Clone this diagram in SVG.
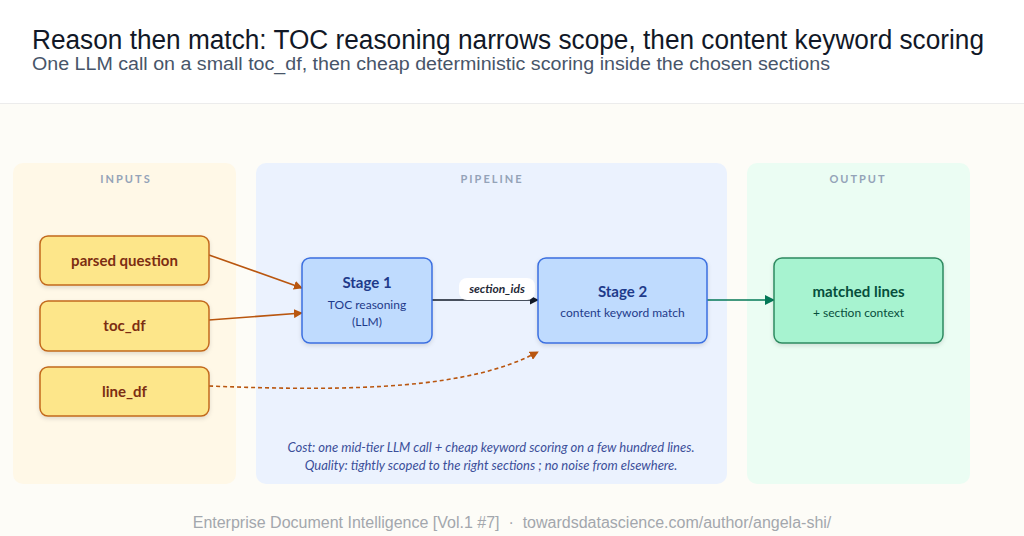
<svg xmlns="http://www.w3.org/2000/svg" width="1024" height="536" viewBox="0 0 1024 536">
<defs>
<style>
.hd{font-family:"Liberation Sans",Arial,sans-serif}
.plab{font-family:Lato,sans-serif;font-size:11px;font-weight:700;letter-spacing:2px;fill:#94a3b8;text-anchor:middle}
.inp rect{fill:#fde68a;stroke:#c2691c;stroke-width:1.5}
.inp text{font-family:Lato,sans-serif;font-size:15px;font-weight:700;fill:#7c2d12;text-anchor:middle}
.stg rect{fill:#bfdbfe;stroke:#3b6fe0;stroke-width:1.5}
.stg .t{font-family:Lato,sans-serif;font-size:15px;font-weight:700;fill:#1e3a8a;text-anchor:middle}
.stg .s{font-family:Lato,sans-serif;font-size:12px;fill:#1e3a8a;text-anchor:middle}
.out rect{fill:#a7f3d0;stroke:#2f8a60;stroke-width:1.5}
.out .t{font-family:Lato,sans-serif;font-size:15px;font-weight:700;fill:#064e3b;text-anchor:middle}
.out .s{font-family:Lato,sans-serif;font-size:12px;fill:#064e3b;text-anchor:middle}
.cap{font-family:Lato,sans-serif;font-size:13px;font-style:italic;fill:#3b4f9a;text-anchor:middle}
</style>
<filter id="sh" x="-10%" y="-10%" width="120%" height="130%"><feDropShadow dx="0" dy="2" stdDeviation="2" flood-color="#000" flood-opacity="0.12"/></filter>
<marker id="ao" viewBox="0 0 10 10" refX="9" refY="5" markerWidth="9" markerHeight="9" markerUnits="userSpaceOnUse" orient="auto"><path d="M0,0 L10,5 L0,10 z" fill="#b9560f"/></marker>
<marker id="ad" viewBox="0 0 10 10" refX="9" refY="5" markerWidth="9" markerHeight="9" markerUnits="userSpaceOnUse" orient="auto"><path d="M0,0 L10,5 L0,10 z" fill="#111827"/></marker>
<marker id="ag" viewBox="0 0 10 10" refX="9" refY="5" markerWidth="10" markerHeight="10" markerUnits="userSpaceOnUse" orient="auto"><path d="M0,0 L10,5 L0,10 z" fill="#047857"/></marker>
</defs>
<rect width="1024" height="536" fill="#fdfcf7"/>
<rect width="1024" height="103" fill="#ffffff"/>
<line x1="0" y1="103.5" x2="1024" y2="103.5" stroke="#ececec"/>
<g id="header">
<text class="hd" x="32" y="49" font-size="27" fill="#111827" textLength="952" lengthAdjust="spacingAndGlyphs">Reason then match: TOC reasoning narrows scope, then content keyword scoring</text>
<text class="hd" x="32" y="70" font-size="17.5" fill="#475569" textLength="798" lengthAdjust="spacingAndGlyphs">One LLM call on a small toc_df, then cheap deterministic scoring inside the chosen sections</text>
</g>
<g id="panel-inputs">
<rect x="13" y="163" width="223" height="321" rx="10" fill="#fff8e7"/>
<text class="plab" x="126" y="183">INPUTS</text>
</g>
<g id="panel-pipeline">
<rect x="256" y="163" width="471" height="321" rx="10" fill="#ebf2fe"/>
<text class="plab" x="492" y="183">PIPELINE</text>
</g>
<g id="panel-output">
<rect x="747" y="163" width="223" height="321" rx="10" fill="#ebfdf3"/>
<text class="plab" x="858" y="183">OUTPUT</text>
</g>
<g id="connectors" fill="none">
<line x1="209" y1="255" x2="302" y2="288" stroke="#b9560f" stroke-width="1.6" marker-end="url(#ao)"/>
<line x1="209" y1="320" x2="302" y2="313" stroke="#b9560f" stroke-width="1.6" marker-end="url(#ao)"/>
<path d="M209,386 C360,392 470,388 538,352" stroke="#b9560f" stroke-width="1.6" stroke-dasharray="4,3" marker-end="url(#ao)"/>
<line x1="432" y1="300" x2="538" y2="300" stroke="#111827" stroke-width="1.6" marker-end="url(#ad)"/>
<line x1="707" y1="300" x2="774" y2="300" stroke="#047857" stroke-width="1.6" marker-end="url(#ag)"/>
<g id="label-section-ids">
<rect x="459" y="278" width="76" height="22" rx="8" fill="#ffffff"/>
<text x="497" y="293" font-family="Lato,sans-serif" font-size="12" font-style="italic" font-weight="700" fill="#1f2937" text-anchor="middle">section_ids</text>
</g>
</g>
<g id="node-parsed-question" class="inp"><rect x="40" y="236" width="169" height="49" rx="8" filter="url(#sh)"/><text x="124.5" y="266">parsed question</text></g>
<g id="node-toc-df" class="inp"><rect x="40" y="301" width="169" height="50" rx="8" filter="url(#sh)"/><text x="124.5" y="331">toc_df</text></g>
<g id="node-line-df" class="inp"><rect x="40" y="367" width="169" height="49" rx="8" filter="url(#sh)"/><text x="124.5" y="397">line_df</text></g>
<g id="node-stage1" class="stg"><rect x="302" y="258" width="130" height="85" rx="8" filter="url(#sh)"/><text class="t" x="367" y="288">Stage 1</text><text class="s" x="367" y="309">TOC reasoning</text><text class="s" x="367" y="326">(LLM)</text></g>
<g id="node-stage2" class="stg"><rect x="538" y="258" width="169" height="85" rx="8" filter="url(#sh)"/><text class="t" x="622.5" y="297">Stage 2</text><text class="s" x="622.5" y="317">content keyword match</text></g>
<g id="node-matched-lines" class="out"><rect x="774" y="258" width="169" height="85" rx="8" filter="url(#sh)"/><text class="t" x="858.5" y="297">matched lines</text><text class="s" x="858.5" y="317">+ section context</text></g>
<g id="caption">
<text class="cap" x="491" y="452">Cost: one mid-tier LLM call + cheap keyword scoring on a few hundred lines.</text>
<text class="cap" x="491" y="470">Quality: tightly scoped to the right sections ; no noise from elsewhere.</text>
</g>
<g id="footer">
<text class="hd" x="512" y="528" font-size="16" fill="#a3a7ad" text-anchor="middle" xml:space="preserve">Enterprise Document Intelligence [Vol.1 #7]  ·  towardsdatascience.com/author/angela-shi/</text>
</g>
</svg>
